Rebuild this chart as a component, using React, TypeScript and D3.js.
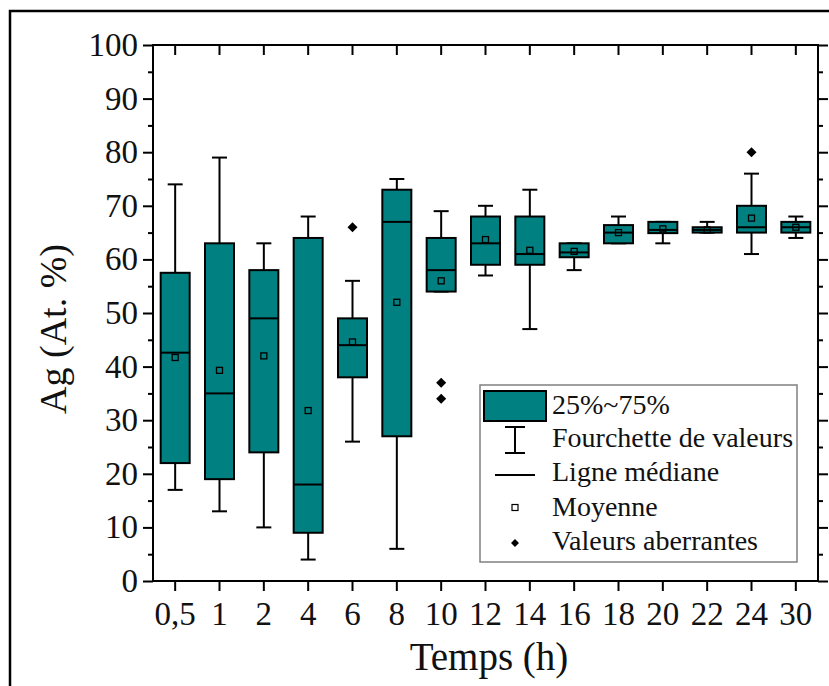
import React, { useEffect, useRef } from "react";
import * as d3 from "d3";

const categories = ["0,5", "1", "2", "4", "6", "8", "10", "12", "14", "16", "18", "20", "22", "24", "30"];
const whiskerLow = [17, 13, 10, 4, 26, 6, 54, 57, 47, 58, 63, 63, 65, 61, 64];
const q1 = [22, 19, 24, 9, 38, 27, 54, 59, 59, 60.4, 63, 64.9, 65, 65, 65];
const median = [42.6, 35, 49, 18, 44, 67, 58, 63, 61, 61.3, 65, 65.5, 65.5, 66, 66];
const q3 = [57.5, 63, 58, 64, 49, 73, 64, 68, 68, 63, 66.4, 67, 66, 70, 67];
const whiskerHigh = [74, 79, 63, 68, 56, 75, 69, 70, 73, 63, 68, 67, 67, 76, 68];
const mean = [41.7, 39.3, 42, 31.8, 44.6, 52, 56, 63.7, 61.7, 61.5, 65, 65.7, 65.5, 67.7, 66];
const outlierCats = ["6", "10", "10", "24"];
const outlierVals = [66, 37, 34, 80];
const yMajor = [0, 10, 20, 30, 40, 50, 60, 70, 80, 90, 100];
const yMinor = [5, 15, 25, 35, 45, 55, 65, 75, 85, 95];
const legendLabels = ["25%~75%", "Fourchette de valeurs", "Ligne médiane", "Moyenne", "Valeurs aberrantes"];

const FILL = "#008080";
const FONT = "Liberation Serif, Times New Roman, serif";

export default function App() {
  const ref = useRef<SVGSVGElement>(null);

  useEffect(() => {
    const svg = d3.select(ref.current);
    svg.selectAll("*").remove();
    const L = 153, R = 818, T = 45, B = 581;
    const x = d3.scaleBand<string>().domain(categories).range([L, R]).padding(0);
    const y = d3.scaleLinear().domain([0, 100]).range([B, T]);
    const cx = (c: string) => (x(c) as number) + x.bandwidth() / 2;
    const boxW = 29, capW = 15;

    // outer frame
    svg.append("rect").attr("x", 10).attr("y", 11).attr("width", 840).attr("height", 700)
      .attr("fill", "white").attr("stroke", "black").attr("stroke-width", 2.5);

    // boxes
    const g = svg.append("g");
    categories.forEach((c, i) => {
      const xc = cx(c);
      g.append("line").attr("x1", xc).attr("x2", xc).attr("y1", y(whiskerHigh[i])).attr("y2", y(q3[i]))
        .attr("stroke", "black").attr("stroke-width", 2);
      g.append("line").attr("x1", xc).attr("x2", xc).attr("y1", y(q1[i])).attr("y2", y(whiskerLow[i]))
        .attr("stroke", "black").attr("stroke-width", 2);
      g.append("line").attr("x1", xc - capW / 2).attr("x2", xc + capW / 2).attr("y1", y(whiskerHigh[i])).attr("y2", y(whiskerHigh[i]))
        .attr("stroke", "black").attr("stroke-width", 2);
      g.append("line").attr("x1", xc - capW / 2).attr("x2", xc + capW / 2).attr("y1", y(whiskerLow[i])).attr("y2", y(whiskerLow[i]))
        .attr("stroke", "black").attr("stroke-width", 2);
      g.append("rect").attr("x", xc - boxW / 2).attr("width", boxW).attr("y", y(q3[i])).attr("height", y(q1[i]) - y(q3[i]))
        .attr("fill", FILL).attr("stroke", "black").attr("stroke-width", 2);
      g.append("line").attr("x1", xc - boxW / 2).attr("x2", xc + boxW / 2).attr("y1", y(median[i])).attr("y2", y(median[i]))
        .attr("stroke", "black").attr("stroke-width", 2);
      g.append("rect").attr("x", xc - 3).attr("y", y(mean[i]) - 3).attr("width", 6).attr("height", 6)
        .attr("fill", "none").attr("stroke", "black").attr("stroke-width", 1.3);
    });
    const diamond = d3.symbol().type(d3.symbolDiamond2).size(64);
    outlierCats.forEach((c, i) => {
      g.append("path").attr("d", diamond() as string)
        .attr("transform", `translate(${cx(c)},${y(outlierVals[i])})`).attr("fill", "black");
    });

    // axes
    const styleAxis = (sel: any) => {
      sel.attr("font-family", null).attr("font-size", null);
      sel.selectAll("line").attr("stroke", "black").attr("stroke-width", 2);
      sel.selectAll("text").style("font-family", FONT).style("font-size", "33px").attr("fill", "#111");
      sel.select(".domain").remove();
    };
    svg.append("g").attr("transform", `translate(${L},0)`)
      .call(d3.axisLeft(y).tickValues(yMajor).tickSize(10).tickPadding(5).tickFormat(d3.format("d")))
      .call(styleAxis);
    svg.append("g").attr("transform", `translate(${L},0)`)
      .call(d3.axisLeft(y).tickValues(yMinor).tickSize(5).tickFormat(() => ""))
      .call(styleAxis);
    svg.append("g").attr("transform", `translate(${R},0)`)
      .call(d3.axisLeft(y).tickValues(yMajor).tickSize(-10).tickFormat(() => ""))
      .call(styleAxis);
    svg.append("g").attr("transform", `translate(${R},0)`)
      .call(d3.axisLeft(y).tickValues(yMinor).tickSize(-5).tickFormat(() => ""))
      .call(styleAxis);
    svg.append("g").attr("transform", `translate(0,${B})`)
      .call(d3.axisBottom(x).tickSize(10).tickPadding(11))
      .call(styleAxis);
    svg.append("g").attr("transform", `translate(0,${T})`)
      .call(d3.axisTop(x).tickSize(-10).tickFormat(() => ""))
      .call(styleAxis);

    // plot frame
    svg.append("rect").attr("x", L).attr("y", T).attr("width", R - L).attr("height", B - T)
      .attr("fill", "none").attr("stroke", "black").attr("stroke-width", 2);

    // axis titles
    svg.append("text").attr("x", 489).attr("y", 670).attr("text-anchor", "middle")
      .style("font-family", FONT).style("font-size", "39px").attr("fill", "#111").text("Temps (h)");
    svg.append("text").attr("transform", `translate(66,${(T + B) / 2 + 16}) rotate(-90)`).attr("text-anchor", "middle")
      .style("font-family", FONT).style("font-size", "38px").attr("fill", "#111").text("Ag (At. %)");

    // legend
    const lg = svg.append("g");
    lg.append("rect").attr("x", 480).attr("y", 385).attr("width", 317).attr("height", 177)
      .attr("fill", "white").attr("stroke", "#808080").attr("stroke-width", 1.5);
    lg.append("rect").attr("x", 484).attr("y", 391).attr("width", 62).attr("height", 30)
      .attr("fill", FILL).attr("stroke", "black").attr("stroke-width", 2);
    const sx = 515;
    lg.append("line").attr("x1", sx).attr("x2", sx).attr("y1", 427).attr("y2", 453).attr("stroke", "black").attr("stroke-width", 2);
    lg.append("line").attr("x1", sx - 10).attr("x2", sx + 10).attr("y1", 427).attr("y2", 427).attr("stroke", "black").attr("stroke-width", 2);
    lg.append("line").attr("x1", sx - 10).attr("x2", sx + 10).attr("y1", 453).attr("y2", 453).attr("stroke", "black").attr("stroke-width", 2);
    lg.append("line").attr("x1", 495).attr("x2", 535).attr("y1", 475).attr("y2", 475).attr("stroke", "black").attr("stroke-width", 2);
    lg.append("rect").attr("x", sx - 3).attr("y", 504.5).attr("width", 6).attr("height", 6)
      .attr("fill", "white").attr("stroke", "black").attr("stroke-width", 1.2);
    lg.append("path").attr("d", d3.symbol().type(d3.symbolDiamond2).size(40)() as string)
      .attr("transform", `translate(${sx},543)`).attr("fill", "black");
    const baselines = [414, 447, 481, 516, 550];
    legendLabels.forEach((t, i) => {
      lg.append("text").attr("x", 552).attr("y", baselines[i]).style("font-family", FONT).style("font-size", "28px")
        .attr("fill", "#111").text(t);
    });
  }, []);

  return (
    <svg ref={ref} width={829} height={686} style={{ position: "absolute", left: 0, top: 0, background: "white" }} />
  );
}
